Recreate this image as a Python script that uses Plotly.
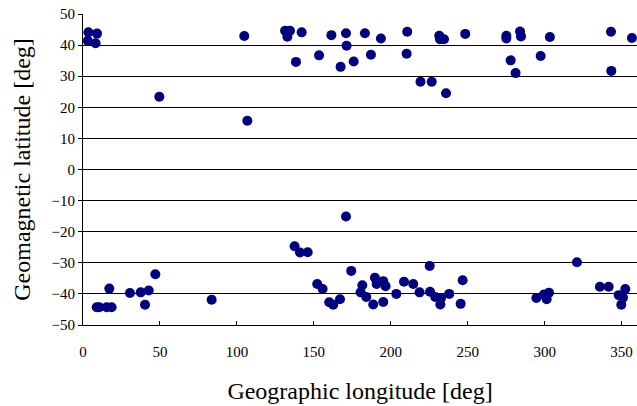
import plotly.graph_objects as go

# Geographic longitude [deg]
lon = [3.5, 3.1, 9.1, 8.2, 49.6, 104.8, 106.8, 131.3, 134.5, 132.8, 142.1, 138.4,
       153.4, 161.4, 170.9, 171.3, 167.4, 175.9, 183.2, 187.1, 193.6, 210.7, 210.3,
       219.3, 226.6, 235.9, 231.5, 232.0, 234.6, 248.4, 275.1, 275.1, 284.0, 284.6,
       277.9, 281.1, 297.4, 303.4, 343.1, 343.3, 356.7,
       8.9, 10.6, 15.4, 18.6, 17.1, 30.5, 37.5, 42.7, 40.3, 47.0, 83.6,
       170.9, 137.5, 141.0, 146.0, 174.3, 152.2, 155.7, 160.0, 162.6, 167.0,
       181.5, 180.4, 184.1, 188.6, 189.7, 190.8, 195.1, 196.6, 195.1, 203.6,
       208.6, 214.6, 218.7, 225.3, 225.5, 228.9, 232.6, 232.2, 238.0, 246.7,
       245.4, 294.6, 299.5, 301.3, 302.8, 321.0, 335.9, 341.6, 348.1, 350.9,
       352.4, 349.8]
# Geomagnetic latitude [deg]
lat = [44.1, 41.4, 43.7, 40.6, 23.4, 42.9, 15.7, 44.6, 44.6, 42.7, 44.1, 34.6,
       36.7, 43.2, 43.8, 39.8, 33.0, 34.7, 43.8, 36.9, 42.1, 44.3, 37.2,
       28.2, 28.2, 24.5, 43.0, 41.9, 41.9, 43.6, 43.0, 42.1, 44.4, 42.8,
       35.1, 31.0, 36.5, 42.6, 44.3, 31.7, 42.3,
       -44.3, -44.3, -44.3, -44.3, -38.3, -39.7, -39.5, -38.9, -43.5, -33.7, -41.9,
       -15.1, -24.7, -26.7, -26.6, -32.6, -36.8, -38.4, -42.7, -43.5, -41.7,
       -37.2, -39.5, -41.0, -43.4, -34.8, -36.8, -35.9, -37.5, -42.6, -40.0,
       -36.1, -36.8, -39.5, -31.0, -39.3, -41.0, -41.4, -43.4, -40.0, -35.6,
       -43.2, -41.3, -40.2, -41.7, -39.6, -29.8, -37.7, -37.7, -40.4, -41.2,
       -38.4, -43.5]

x_ticks = [0, 50, 100, 150, 200, 250, 300, 350]
y_ticks = [-50, -40, -30, -20, -10, 0, 10, 20, 30, 40, 50]

FONT = "Liberation Serif"

fig = go.Figure(go.Scatter(
    x=lon, y=lat, mode="markers",
    marker=dict(color="#000080", size=10, line=dict(width=0)),
    showlegend=False,
))

fig.update_layout(
    width=637, height=406,
    margin=dict(l=83, r=0, t=14, b=81),
    paper_bgcolor="white", plot_bgcolor="white",
    font=dict(family=FONT, color="black", size=15),
)
fig.update_xaxes(
    range=[0, 360], tickvals=x_ticks, ticks="inside", ticklen=4, tickcolor="black",
    showline=True, linecolor="black", linewidth=1, showgrid=False, zeroline=False,
    ticklabelstandoff=13,
    title=dict(text="Geographic longitude [deg]", font=dict(size=24, family=FONT), standoff=23),
)
fig.update_yaxes(
    range=[-50, 50], tickvals=y_ticks, ticks="outside", ticklen=4, tickcolor="black",
    showline=True, linecolor="black", linewidth=1, showgrid=True, gridcolor="black",
    gridwidth=1, zeroline=False,
    title=dict(text="Geomagnetic latitude [deg]", font=dict(size=24, family=FONT), standoff=14),
)

fig.write_html("out.html")
